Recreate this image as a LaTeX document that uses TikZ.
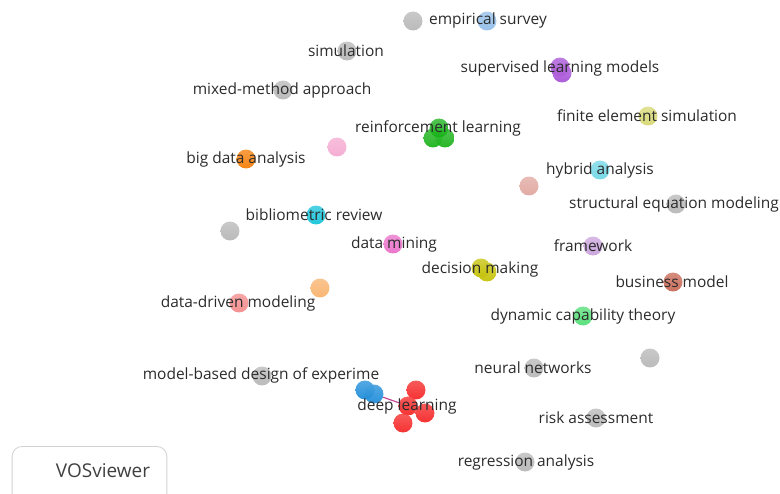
\documentclass[tikz,border=0pt]{standalone}
\usepackage{fontspec}
\setmainfont{Open Sans}
\usepackage{tikz}
\usetikzlibrary{positioning}
\usepackage{xcolor}

\definecolor{txt}{HTML}{2B2B2B}
\definecolor{gry}{HTML}{B5B5B5}
\definecolor{sky}{HTML}{8FBCE8}
\definecolor{purp}{HTML}{A64FD6}
\definecolor{khaki}{HTML}{D6D670}
\definecolor{grn}{HTML}{14B014}
\definecolor{pinkl}{HTML}{F4A7CF}
\definecolor{orng}{HTML}{F57A00}
\definecolor{cyanl}{HTML}{6DD5E4}
\definecolor{salm}{HTML}{E0A49C}
\definecolor{cyn}{HTML}{10C2D8}
\definecolor{mag}{HTML}{E96CC8}
\definecolor{lilac}{HTML}{C8A0DC}
\definecolor{olive}{HTML}{C4C000}
\definecolor{brick}{HTML}{C66450}
\definecolor{peach}{HTML}{F9B068}
\definecolor{rose}{HTML}{F48888}
\definecolor{mint}{HTML}{4FDD72}
\definecolor{blu}{HTML}{1889D8}
\definecolor{rd}{HTML}{F52020}

\begin{document}
\begin{tikzpicture}[x=0.025cm,y=-0.025cm,
  dot/.style={circle,inner sep=0pt,minimum size=13.5pt,top color=#1!80!white,bottom color=#1,opacity=0.92},
  lbl/.style={text=txt,font=\fontsize{11}{13}\selectfont,inner sep=0pt},
  link/.style={draw=purp!60!rd,line width=0.8pt}]
\useasboundingbox (0,0) rectangle (780,493);

% item circles
\node (g1) [dot=gry] at (413,21) {};
\node (survey) [dot=sky] at (487,21) {};
\node (sim) [dot=gry] at (347,51) {};
\node (sup1) [dot=purp] at (560,67) {};
\node (sup2) [dot=purp] at (562,73) {};
\node (mixed) [dot=gry] at (283,90) {};
\node (fem) [dot=khaki] at (648,116) {};
\node (rl1) [dot=grn] at (433,138) {};
\node (rl2) [dot=grn] at (445,138) {};
\node (rl3) [dot=grn] at (439,128) {};
\node (p1) [dot=pinkl] at (337,147) {};
\node (bigdata) [dot=orng] at (246,159) {};
\node (hybrid) [dot=cyanl] at (600,170) {};
\node (s1) [dot=salm] at (529,186) {};
\node (sem) [dot=gry] at (676,204) {};
\node (biblio) [dot=cyn] at (316,215) {};
\node (g2) [dot=gry] at (230,231) {};
\node (mining) [dot=mag] at (393,244) {};
\node (frame) [dot=lilac] at (593,246) {};
\node (dm1) [dot=olive] at (481,268) {};
\node (dm2) [dot=olive] at (487,272) {};
\node (business) [dot=brick] at (673,282) {};
\node (o1) [dot=peach] at (320,288) {};
\node (datadriven) [dot=rose] at (239,303) {};
\node (dynamic) [dot=mint] at (583,316) {};
\node (g3) [dot=gry] at (650,358) {};
\node (neural) [dot=gry] at (534,368) {};
\node (mbdoe) [dot=gry] at (262,376) {};
\node (b1) [dot=blu] at (365,390) {};
\node (b2) [dot=blu] at (374,394) {};
\node (dl1) [dot=rd] at (416,390) {};
\node (dl2) [dot=rd] at (408,406) {};
\node (dl3) [dot=rd] at (425,413) {};
\node (dl4) [dot=rd] at (403,423) {};
\node (risk) [dot=gry] at (596,418) {};
\node (regr) [dot=gry] at (525,462) {};

% the one visible link
\draw[link] (b2) -- (dl2);

% item labels
\node (surveyl) [lbl] at (488,20) {empirical survey};
\node (siml) [lbl] at (346,51) {simulation};
\node (supl) [lbl] at (560,68) {supervised learning models};
\node (mixedl) [lbl] at (282,90) {mixed-method approach};
\node (feml) [lbl] at (647,116) {finite element simulation};
\node (rll) [lbl] at (438,128) {reinforcement learning};
\node (bigdatal) [lbl] at (246,159) {big data analysis};
\node (hybridl) [lbl] at (600,170) {hybrid analysis};
\node (seml) [lbl] at (674,204) {structural equation modeling};
\node (bibliol) [lbl] at (314,215) {bibliometric review};
\node (miningl) [lbl] at (394,244) {data mining};
\node (framel) [lbl] at (593,246) {framework};
\node (dml) [lbl] at (480,269) {decision making};
\node (businessl) [lbl] at (672,282) {business model};
\node (datadrivenl) [lbl] at (238,303) {data-driven modeling};
\node (dynamicl) [lbl] at (583,316) {dynamic capability theory};
\node (neurall) [lbl] at (533,368) {neural networks};
\node (mbdoel) [lbl] at (261,375) {model-based design of experime};
\node (dll) [lbl] at (407,406) {deep learning};
\node (riskl) [lbl] at (596,418) {risk assessment};
\node (regrl) [lbl] at (526,462) {regression analysis};

% logo box, cut by the lower edge
\begin{scope}
\clip (0,0) rectangle (780,493);
\node (logo) [draw=gry!60,line width=0.6pt,rounded corners=7pt,minimum width=110pt,minimum height=42pt,inner sep=0pt] at (89.5,476) {};
\end{scope}
\node (logol) [text=txt!90,font=\fontsize{13.5}{16}\selectfont,inner sep=0pt] at (103,471) {VOSviewer};
\end{tikzpicture}
\end{document}
